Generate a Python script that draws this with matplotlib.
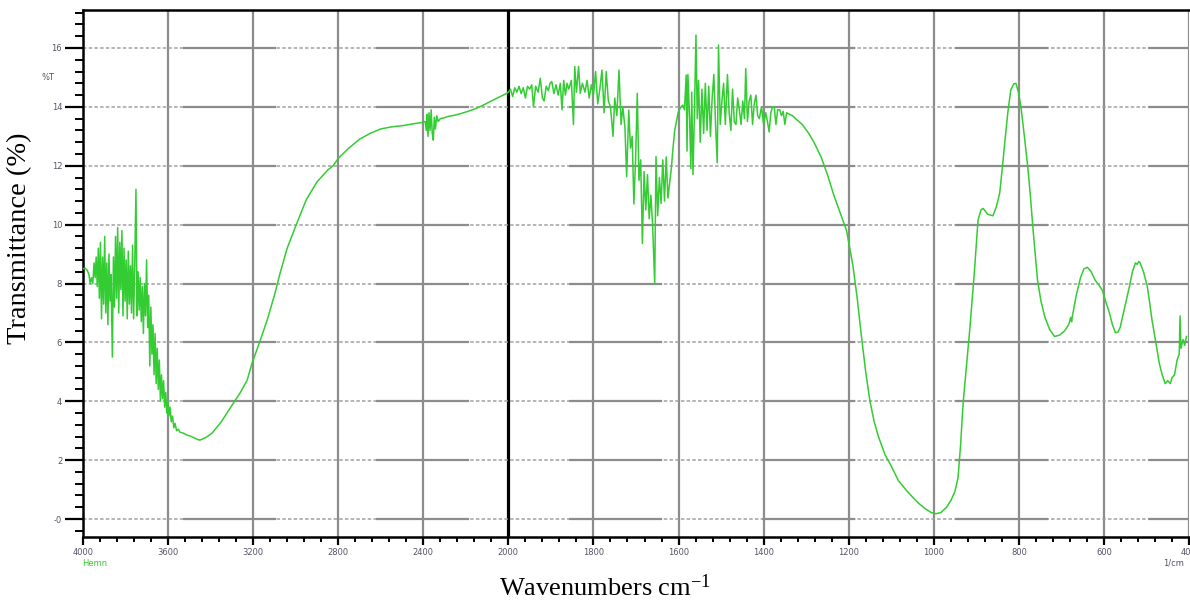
import numpy as np
import matplotlib
matplotlib.use("Agg")
import matplotlib.pyplot as plt
from matplotlib.ticker import FixedLocator, FixedFormatter, NullFormatter

# ---------------- data (wavenumber cm-1, transmittance %) ----------------
oh_band = [(4000, 8.5), (3990, 8.52), (3980, 8.45), (3972, 8.3), (3966, 8.0), (3960, 8.2),
           (3954, 8.0), (3948, 8.7), (3943, 8.2), (3938, 8.9), (3933, 7.9), (3928, 9.2),
           (3923, 7.5), (3918, 9.4), (3913, 6.8), (3908, 8.9), (3903, 7.3), (3898, 9.6),
           (3893, 7.0), (3888, 8.7), (3883, 6.6), (3878, 9.0), (3873, 7.4), (3868, 8.3),
           (3862, 5.5), (3857, 8.9), (3852, 7.2), (3847, 9.6), (3842, 7.5), (3837, 9.9),
           (3832, 7.0), (3827, 9.4), (3822, 7.8), (3817, 9.8), (3812, 6.9), (3807, 9.2),
           (3802, 7.4), (3797, 8.8), (3792, 6.8), (3787, 9.1), (3782, 7.3), (3777, 8.6),
           (3772, 7.0), (3767, 9.3), (3762, 6.8), (3757, 8.5), (3751, 11.2), (3746, 6.9),
           (3741, 8.4), (3736, 7.1), (3731, 8.2), (3726, 6.7), (3721, 7.9), (3716, 6.3),
           (3711, 8.0), (3706, 6.9), (3701, 8.8), (3696, 6.5), (3691, 7.6), (3686, 5.2),
           (3681, 7.2), (3676, 5.6), (3671, 6.6), (3666, 4.9), (3661, 6.3), (3656, 4.6),
           (3651, 5.8), (3646, 4.4), (3641, 5.4), (3636, 4.0), (3631, 4.9), (3626, 4.1),
           (3621, 4.7), (3616, 3.8), (3611, 4.3), (3606, 3.6), (3601, 4.0), (3596, 3.5),
           (3591, 3.8), (3585, 3.3), (3579, 3.5), (3573, 3.1), (3567, 3.25), (3560, 3.0),
           (3552, 3.05), (3544, 2.95), (3530, 2.92), (3510, 2.85), (3496, 2.82),
           (3475, 2.75), (3460, 2.7), (3450, 2.68)]

broad_rise = [(3420, 2.78), (3393, 2.92), (3350, 3.3), (3308, 3.77), (3260, 4.3), (3228, 4.72),
              (3205, 5.3), (3170, 6.0), (3134, 6.76), (3100, 7.6), (3073, 8.36), (3040, 9.2),
              (3000, 9.95), (2950, 10.85), (2900, 11.45), (2850, 11.85), (2824, 12.0),
              (2800, 12.25), (2750, 12.6), (2700, 12.9), (2650, 13.1), (2600, 13.25),
              (2550, 13.32), (2500, 13.36), (2450, 13.42), (2405, 13.47)]

co2_band = [(2396, 13.5), (2391, 13.5), (2386, 13.2), (2382, 13.75), (2378, 13.0), (2373, 13.8),
            (2368, 13.2), (2363, 13.9), (2358, 13.1), (2353, 12.87), (2348, 13.65), (2343, 13.25),
            (2337, 13.7), (2330, 13.5), (2320, 13.6), (2306, 13.62), (2280, 13.68), (2250, 13.72),
            (2220, 13.78), (2193, 13.84), (2150, 13.95), (2118, 14.06), (2080, 14.2),
            (2038, 14.35), (2010, 14.45)]

amide_band = [(2000, 14.5), (1995, 14.6), (1990, 14.35), (1985, 14.65), (1980, 14.5), (1975, 14.7),
              (1970, 14.45), (1965, 14.65), (1960, 14.3), (1955, 14.7), (1950, 14.6), (1945, 14.75),
              (1941, 14.0), (1936, 14.7), (1930, 14.5), (1925, 14.97), (1920, 14.3), (1916, 14.2),
              (1911, 14.7), (1906, 14.55), (1902, 14.8), (1898, 14.86), (1893, 14.45), (1888, 14.75),
              (1883, 14.4), (1878, 14.8), (1874, 13.9), (1870, 14.9), (1866, 14.4), (1862, 14.8),
              (1858, 14.6), (1852, 14.9), (1847, 13.4), (1844, 15.37), (1840, 14.5), (1835, 15.37),
              (1831, 14.46), (1826, 14.8), (1820, 14.5), (1815, 14.9), (1810, 14.3), (1805, 14.75),
              (1800, 14.4), (1795, 15.2), (1790, 14.1), (1785, 14.6), (1780, 15.25), (1775, 13.8),
              (1770, 15.2), (1765, 14.2), (1760, 14.0), (1754, 13.0), (1750, 14.3), (1745, 13.7),
              (1740, 15.25), (1735, 13.4), (1731, 14.0), (1726, 13.3), (1722, 11.63), (1717, 13.89),
              (1713, 12.6), (1709, 13.0), (1705, 10.7), (1701, 12.2), (1697, 14.46), (1693, 11.5),
              (1689, 12.2), (1685, 9.36), (1681, 11.8), (1677, 10.5), (1673, 11.7), (1669, 10.2),
              (1665, 11.0), (1661, 10.0), (1656, 8.0), (1653, 12.31), (1649, 10.3), (1645, 11.6),
              (1641, 10.72), (1637, 12.2), (1633, 10.8), (1629, 12.3), (1625, 10.9), (1621, 11.4),
              (1617, 11.9), (1613, 12.6), (1609, 13.2), (1605, 13.5), (1601, 13.8), (1598, 13.9),
              (1594, 14.0), (1590, 14.06), (1586, 13.9), (1582, 15.08), (1580, 12.5), (1578, 15.1),
              (1574, 13.6), (1571, 11.9), (1569, 14.5), (1566, 11.7), (1562, 14.2), (1559, 16.44),
              (1556, 13.6), (1553, 14.9), (1549, 12.8), (1545, 14.6), (1541, 13.1), (1537, 14.8),
              (1533, 13.2), (1529, 14.7), (1525, 13.0), (1521, 14.3), (1517, 15.1), (1513, 13.4),
              (1509, 12.1), (1506, 16.1), (1502, 13.4), (1498, 14.2), (1494, 14.8), (1490, 13.4),
              (1485, 15.1), (1481, 13.8), (1477, 13.2), (1473, 14.6), (1469, 13.5), (1465, 13.4),
              (1461, 14.3), (1457, 13.9), (1453, 13.4), (1449, 14.2), (1445, 13.6), (1442, 15.3),
              (1438, 13.5), (1434, 14.2), (1430, 14.4), (1426, 13.4), (1422, 14.1), (1418, 14.4),
              (1414, 13.7), (1410, 13.6), (1405, 14.0), (1400, 13.4), (1395, 13.8), (1391, 13.5),
              (1387, 13.15), (1383, 13.8), (1379, 14.0), (1375, 14.0), (1371, 13.4), (1367, 13.9),
              (1362, 13.9), (1358, 13.7), (1354, 13.85), (1350, 13.4), (1346, 13.8), (1340, 13.75),
              (1332, 13.7), (1325, 13.6), (1317, 13.5), (1309, 13.4)]

fingerprint = [(1294, 13.1), (1280, 12.75), (1265, 12.3), (1250, 11.7), (1235, 11.0), (1220, 10.4),
               (1205, 9.8), (1190, 8.6), (1180, 7.5), (1170, 6.2), (1160, 5.0), (1150, 4.0),
               (1140, 3.3), (1130, 2.8), (1115, 2.2), (1100, 1.8), (1083, 1.3), (1060, 0.9),
               (1036, 0.54), (1020, 0.35), (1006, 0.22), (995, 0.18), (983, 0.22), (970, 0.4),
               (959, 0.65), (950, 0.95), (943, 1.4), (937, 2.5), (931, 3.94), (923, 5.2),
               (915, 6.5), (905, 8.3), (896, 10.15), (889, 10.5), (884, 10.55), (873, 10.35),
               (861, 10.3), (853, 10.6), (845, 11.07), (839, 11.9), (833, 12.8), (826, 13.8),
               (819, 14.57), (812, 14.78), (807, 14.8), (801, 14.5), (795, 14.0), (787, 13.0),
               (779, 11.96), (773, 11.0), (767, 9.9), (761, 8.9), (756, 8.1), (748, 7.4),
               (739, 6.87), (728, 6.45), (716, 6.2), (704, 6.25), (692, 6.4), (683, 6.6),
               (678, 6.85), (676, 6.7), (674, 6.9), (665, 7.6), (655, 8.2), (647, 8.5),
               (639, 8.55), (630, 8.4), (620, 8.1), (612, 7.95), (604, 7.78), (596, 7.4),
               (587, 7.0), (580, 6.6), (573, 6.33), (567, 6.35), (562, 6.5), (551, 7.2),
               (540, 7.9), (533, 8.4), (526, 8.7), (522, 8.65), (518, 8.75), (515, 8.7),
               (507, 8.4), (498, 7.9), (493, 7.4), (487, 6.76), (478, 6.0), (470, 5.3),
               (463, 4.9), (456, 4.6), (450, 4.7), (444, 4.6), (440, 4.8), (434, 4.9),
               (428, 5.4), (423, 5.6), (421, 6.9), (419, 5.8), (414, 6.1), (410, 5.9), (406, 6.2)]

x_major = [4000, 3600, 3200, 2800, 2400, 2000, 1800, 1600, 1400, 1200, 1000, 800, 600, 400]
x_labels = ["4000", "3600", "3200", "2800", "2400", "2000", "1800", "1600", "1400",
            "1200", "1000", "800", "600", "400"]
y_major = [0, 2, 4, 6, 8, 10, 12, 14, 16]
y_labels = ["-0", "2", "4", "6", "8", "10", "12", "14", "16"]

# ---------------- assemble ----------------
spectrum = oh_band + broad_rise + co2_band + amide_band + fingerprint
wn = np.array([p[0] for p in spectrum], float)
tr = np.array([p[1] for p in spectrum], float)

W, H = 1190, 607
plt.rcParams["lines.scale_dashes"] = False
plt.rcParams["mathtext.default"] = "regular"
fig = plt.figure(figsize=(W / 100, H / 100), dpi=100)
ax = fig.add_axes([83 / W, 1 - 537 / H, (1189 - 83) / W, (537 - 10) / H])


def fwd(x):
    x = np.asarray(x, float)
    return np.where(x > 2000, 2000 + (x - 2000) / 2.0, x)


def inv(u):
    u = np.asarray(u, float)
    return np.where(u > 2000, 2000 + (u - 2000) * 2.0, u)


ax.set_xscale("function", functions=(fwd, inv))
ax.set_xlim(4000, 400)
ax.set_ylim(-0.61, 17.29)

x_minor = list(np.arange(4000, 2000, -80)) + list(np.arange(2000, 399, -40))
y_minor = list(np.arange(-0.4, 17.3, 0.4))
ax.xaxis.set_major_locator(FixedLocator(x_major))
ax.xaxis.set_major_formatter(FixedFormatter(x_labels))
ax.xaxis.set_minor_locator(FixedLocator(x_minor))
ax.xaxis.set_minor_formatter(NullFormatter())
ax.yaxis.set_major_locator(FixedLocator(y_major))
ax.yaxis.set_major_formatter(FixedFormatter(y_labels))
ax.yaxis.set_minor_locator(FixedLocator(y_minor))

lab_col = "#555566"
ax.tick_params(axis="y", which="major", direction="out", length=13, width=1.6,
               labelsize=6, labelcolor=lab_col, pad=2)
ax.tick_params(axis="y", which="minor", direction="out", length=6, width=1.4)
ax.tick_params(axis="x", which="major", direction="out", length=6, width=1.6,
               labelsize=6, labelcolor=lab_col, pad=2)
ax.tick_params(axis="x", which="minor", direction="out", length=3.5, width=1.4)

# grid
for xv in x_major:
    if xv == 2000:
        ax.axvline(xv, color="black", lw=2.3, zorder=1)
    else:
        ax.axvline(xv, color="#8c8c8c", lw=1.6, zorder=1)
for yv in y_major:
    ax.axhline(yv, color="#a0a0a0", lw=1.1, linestyle=(0, (2.5, 1.6)), zorder=1)
    ax.axhline(yv, color="#8c8c8c", lw=1.6, linestyle=(67, (67, 72)), zorder=1)

for side in ["left", "bottom", "top"]:
    ax.spines[side].set_color("black")
    ax.spines[side].set_linewidth(1.8)
ax.spines["right"].set_visible(False)

ax.plot(wn, tr, color="#33cc33", lw=1.1, zorder=3)

# texts
fig.text(20 / W, 1 - 238 / H, "Transmittance (%)", rotation=90, ha="center", va="center",
         family="Liberation Serif", size=20.5)
fig.text(605 / W, 1 - 588 / H, "Wavenumbers cm$^{-1}$", ha="center", va="center",
         family="Liberation Serif", size=19)
fig.text(42 / W, 1 - 78 / H, "%T", ha="left", va="center", size=6, color=lab_col)
fig.text(82 / W, 1 - 563 / H, "Hemn", ha="left", va="center", size=6, color="#33cc33")
fig.text(1163 / W, 1 - 563 / H, "1/cm", ha="left", va="center", size=6, color=lab_col)

fig.savefig("out.png", dpi=100)
